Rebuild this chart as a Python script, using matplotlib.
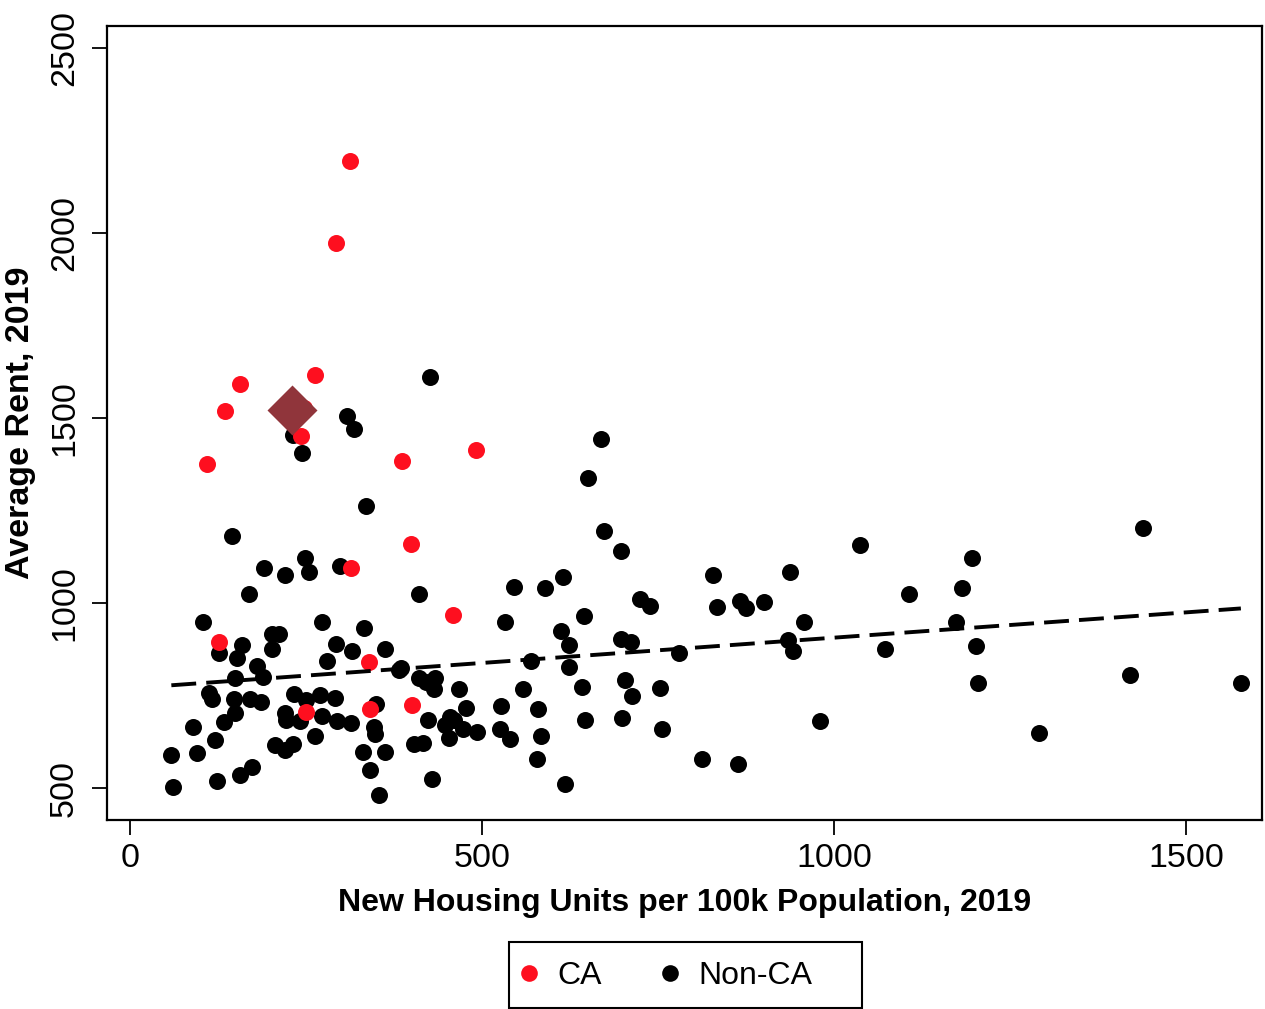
import numpy as np
import matplotlib.pyplot as plt
from matplotlib.lines import Line2D
from matplotlib.patches import Rectangle

plt.rcParams['font.family'] = ['Liberation Sans', 'DejaVu Sans']

# California metros (red)
ca_units = [312.5, 292.6, 262.8, 156, 135, 247.5, 243, 110, 386, 491,
            398.7, 313.5, 458.8, 126, 339, 250, 341, 401]
ca_rent = [2195, 1974, 1618, 1593, 1519, 1527, 1452, 1376, 1384, 1415,
           1160, 1096, 967, 896, 841, 706, 715, 723.5]

# Other metros (black)
non_ca_units = [
    426, 231, 308.7, 318, 245,
    334.7, 145, 248.6, 254.7, 190, 220.6, 298, 169, 103.7, 273, 333, 126,
    158.6, 152, 201.7, 212, 201.7, 292.6, 316, 280, 180, 188.5, 148.7,
    112.7, 116, 147, 171, 186, 233, 250, 270, 291.6, 220, 221, 241.5,
    272.7, 293.5, 313.5, 349.4, 149, 133, 89, 120.7, 58.7, 94.7, 206,
    220, 231, 263, 331, 341, 60.6, 123, 156, 173, 354,
    411, 533, 545, 589, 615.5, 650.6, 674, 697, 645, 612.6, 623, 623.6,
    569, 697, 711, 641.6, 647, 703.6, 712.6, 699,
    362.6, 382, 385, 411, 432.7, 431.8, 420, 468, 476.8, 527, 558.7, 580,
    584, 578.6, 618, 525, 540, 493, 473.5, 454.5, 447.4, 453.6, 423.7,
    404, 416.6, 429.5, 347, 348, 362, 460,
    668.6, 1037, 827.6, 937.5, 724, 738.6, 834, 866.5, 874.5, 901, 958,
    780, 934, 942, 1072, 753, 755.7, 812.5, 863, 980,
    1439, 1196.5, 1107, 1182, 1174, 1202, 1204, 1420, 1578, 1291]
non_ca_rent = [
    1612, 1454, 1506, 1470, 1405,
    1264, 1181, 1123, 1085, 1095, 1077, 1101, 1024, 949, 948, 934, 866,
    888, 851, 916, 918, 875, 891, 871, 845, 830, 801, 797,
    756, 740.5, 740, 741, 733, 755, 738, 753, 743, 702, 684, 682,
    696, 682, 675, 727, 702, 679, 666, 630, 590, 595, 617,
    604, 620, 641, 598, 549, 502, 519, 535, 557, 481,
    1025, 950, 1044, 1042, 1070, 1338, 1196, 1142, 965, 925, 886.5, 827,
    845, 903.5, 894.6, 773, 683, 792, 749, 689,
    877.5, 819, 825, 799, 797, 769, 787, 767, 717, 722, 767, 712.7,
    641, 578, 511, 661, 634, 652, 661, 693, 670, 635, 685,
    619, 622, 524, 666, 646, 598, 683,
    1445, 1157, 1076, 1083, 1010, 992, 989, 1007, 988, 1003, 949,
    866, 900, 871, 875.7, 771, 661, 580, 565, 682,
    1202, 1121, 1025, 1041, 950, 884, 783, 805, 784.6, 648]

# highlighted point (diamond)
hl_units = [230.5]
hl_rent = [1522]

# fitted line (all metros)
fit_intercept = 770.1
fit_slope = 0.1367

red = '#fe0f1f'
cranberry = '#90353b'

fig = plt.figure(figsize=(12.65, 10.09), dpi=100)
ax = fig.add_axes([107 / 1265, 1 - 820 / 1009, (1262 - 107) / 1265, (820 - 26) / 1009])

ax.scatter(non_ca_units, non_ca_rent, s=150, color='black', linewidths=0, zorder=2)
ax.scatter(ca_units, ca_rent, s=150, color=red, linewidths=0, zorder=3)

all_x = np.array(ca_units + non_ca_units)
xx = np.array([all_x.min(), all_x.max()])
ax.plot(xx, fit_intercept + fit_slope * xx, color='black', lw=2.8,
        linestyle=(0, (6.4, 2.6)), zorder=4)

ax.plot(hl_units, hl_rent, marker='D', ms=25, color=cranberry, mec='none',
        ls='', zorder=5)

ax.set_xlim(-32.7, 1608)
ax.set_ylim(414, 2560)
ax.set_xticks([0, 500, 1000, 1500])
ax.set_yticks([500, 1000, 1500, 2000, 2500])

for sp in ax.spines.values():
    sp.set_linewidth(1.6)
    sp.set_color('black')

ax.tick_params(axis='both', length=10.5, width=1.3, labelsize=24.5, color='black')
ax.tick_params(axis='x', pad=6)
ax.tick_params(axis='y', labelrotation=90, pad=9)
for lab in ax.get_yticklabels():
    lab.set_va('center')

ax.set_xlabel('New Housing Units per 100k Population, 2019', fontsize=23,
              fontweight='bold', labelpad=10)
ax.set_ylabel('Average Rent, 2019', fontsize=24.5, fontweight='bold', labelpad=9)

# legend
handles = [Line2D([], [], marker='o', ls='', ms=12, color=red, mec='none', label='CA'),
           Line2D([], [], marker='o', ls='', ms=12, color='black', mec='none', label='Non-CA')]
fig.legend(handles=handles, loc='center left', bbox_to_anchor=(516 / 1265, 1 - 976 / 1009),
           ncol=2, frameon=False, fontsize=23, handlelength=0.8, handletextpad=0.5,
           columnspacing=1.72, borderpad=0, borderaxespad=0)
fig.add_artist(Rectangle((509 / 1265, 1 - 1008 / 1009), (862 - 509) / 1265, (1008 - 942) / 1009,
                         transform=fig.transFigure, fill=False, edgecolor='black', lw=1.5))

fig.savefig('out.png', dpi=100)
